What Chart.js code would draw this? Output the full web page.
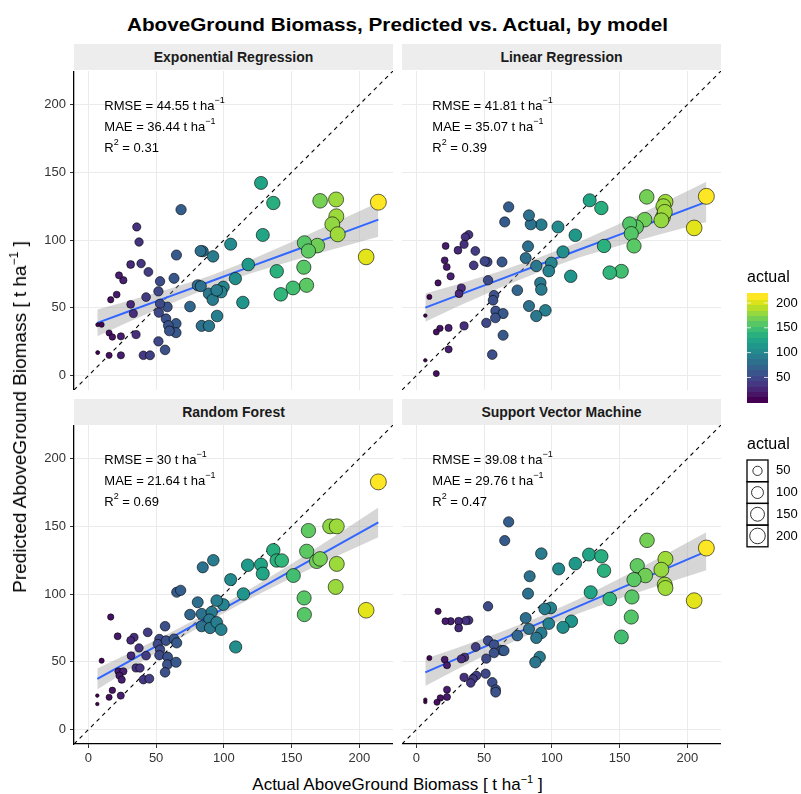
<!DOCTYPE html>
<html>
<head>
<meta charset="utf-8">
<script src="https://cdn.jsdelivr.net/npm/chart.js@4.4.0/dist/chart.umd.min.js"></script>
<style>
  body { margin: 0; background: #fff; font-family: "Liberation Sans", Arial, Helvetica, sans-serif; }
  #wrap { position: relative; width: 801px; height: 794px; overflow: hidden; }
  canvas { position: absolute; }
  .strip { position: absolute; width: 319px; height: 26px; line-height: 26px; background: #EDEDED;
           text-align: center; font-weight: bold; font-size: 14px; color: #1a1a1a; }
  .txt { position: absolute; white-space: nowrap; color: #000; }
  .sup { font-size: 11px; position: relative; top: -7px; }
</style>
</head>
<body>
<div id="wrap">
  <div class="txt" style="left:0;width:795px;top:14px;line-height:22px;text-align:center;font-weight:bold;font-size:18px;transform:scaleX(1.15);">AboveGround Biomass, Predicted vs. Actual, by model</div>

  <div class="strip" style="left:74px;top:44px;">Exponential Regression</div>
  <div class="strip" style="left:402px;top:44px;">Linear Regression</div>
  <div class="strip" style="left:74px;top:399px;">Random Forest</div>
  <div class="strip" style="left:402px;top:399px;">Support Vector Machine</div>

  <canvas id="cER" width="363" height="319" style="left:30px;top:71px;"></canvas>
  <canvas id="cLR" width="319" height="319" style="left:402px;top:71px;"></canvas>
  <canvas id="cRF" width="363" height="343" style="left:30px;top:425px;"></canvas>
  <canvas id="cSVM" width="319" height="343" style="left:402px;top:425px;"></canvas>
  <canvas id="legend" width="65" height="300" style="left:736px;top:260px;"></canvas>

  <div class="txt" style="left:0;width:795px;top:775px;line-height:20px;text-align:center;font-size:17px;">Actual AboveGround Biomass [ t ha<span class="sup">−1</span> ]</div>
  <div class="txt" style="left:21px;top:417px;width:0;height:0;">
    <div style="position:absolute;left:0;top:0;transform:translate(-50%,-50%) rotate(-90deg);font-size:19px;line-height:22px;white-space:nowrap;">Predicted AboveGround Biomass [ t ha<span class="sup" style="font-size:12px;top:-8px;">−1</span> ]</div>
  </div>
</div>

<script>
// ---- data ----
const axisMin = -10.6, axisMax = 224.8;
const tickVals = [0, 50, 100, 150, 200];
const legendBreaks = [50, 100, 150, 200];

const erX = [214,205,171,182.8,183,180,184,169,159.4,162.4,159,161,151,142,139,136.5,127.4,128.7,118,114,108.5,105,99.6,98,89,91.8,94.7,95,92,84.4,82.8,80.7,83,83.6,89,75,65,68.4,63.2,64.7,64.7,58.3,57.3,59,59.8,52.9,51.7,52.9,52,56.6,51.7,42.6,44.3,38.9,37.4,35.7,31.2,25.8,22.6,31.2,33.2,35.2,40.6,45.5,24,24,20.9,16.5,15.3,17.7,15.3,9.8,6.9,6.9];
const erY = [128,87.6,129,130,117.6,111.7,104.3,96,98,92,80,66.7,64.7,60,77,127.4,142.2,103.8,82,54,71.6,97,65.4,61.7,60.5,56,63,44,88,91.8,92,66.7,66,36.7,36.7,51,89,122.5,71.8,38.4,31.7,50.7,42,37,33,69.6,62.2,53,46.5,19,25.3,58,76.5,82.7,98.6,109.7,82,70.4,74,52.6,45.8,30.3,15,15,29,15,59.8,56,31.5,28.5,15,37.6,37.6,17];

const lrX = [214,205,170,183.8,182.3,182,183.3,180.8,168.5,162.3,157.4,158.6,160.6,151.3,142.7,138.5,127.9,136.5,117.3,108.2,113.9,104.5,99.6,97.7,92.2,84.4,83.1,88.5,82.4,80.7,91.5,92.2,95.2,88.5,83.1,74.5,68.1,65.2,63.2,52.4,50.4,52.9,57.3,56.6,58.5,64,58.3,51.6,64,56,38.6,36.1,35.2,30.7,21.6,43.5,42.3,20.9,22.4,25.3,16,33.2,31.5,35.2,23.8,17.4,14.7,23.8,9.6,6.6,6.6,14.7];
const lrY = [132.3,109,131.9,128.2,125,117,120.8,114.6,115.1,109.7,112,104.8,95.7,77,76,95.7,129.4,123.7,103.6,91.3,73.3,109.7,83.1,77.2,111.4,111.7,118.3,80.9,95.4,86.8,68.4,63.5,48.2,44,51.4,63,124.5,113.4,83.9,83.9,84.4,70.4,59.3,55.6,47.7,45.8,42.6,38.9,29.8,15.5,104,102.3,96.9,92.5,95.7,92,81.4,85.1,80.2,73.3,68.4,64.7,60.5,36.7,35.2,34.9,32.2,19.4,58.1,44.3,11.3,1.5];

const rfX = [214,205,178.4,183.3,183.3,182.5,162.4,161.1,168.5,171,159.2,159.4,151.3,136.5,139,142.7,127.4,128.7,117.6,114.4,108.7,105,99.6,94.7,92.2,84.4,80.7,75,83.6,91,89.3,83.6,89.8,94.7,98,65.2,68.1,56.6,52.4,51.2,57.3,63.2,65.2,52.9,52.4,58.5,58.3,64.7,56.6,43.8,33.7,31.2,37.4,31.5,42.6,35.2,38.1,40.6,45,21.6,16.5,22.1,25.8,22.9,24.6,17.7,15.3,23.9,9.8,6.6,6.6];
const rfY = [182.8,88.1,150,150,122.3,105.3,146.9,131.6,124.2,126,97.2,84.9,113.7,132.4,124.8,124.8,121.8,115.1,121.3,100.1,61,110.7,92.3,95.2,125,119.8,94,84.9,85.4,86.8,81.2,76.3,75,79.2,73.8,101.4,102.8,76.3,66.9,63.2,65.7,66.9,64,59,54.9,53.6,48,49.7,42.3,71.8,68.1,65.9,60.3,54.6,54.6,45.5,45.5,36.9,37.6,68.9,83.1,43,43,39.9,36.9,29,23.9,25.1,50.9,25.1,18.9];

const svmX = [214,205,170.2,183.8,180.8,183.3,183.8,163,169,160.6,159.1,158.6,151.3,142.7,128.6,127.4,136.5,138.5,117.3,105,114.4,108.2,97.7,99.1,94.7,92.2,83.6,82.4,80.7,92.2,88.5,83.1,91,87.8,74.5,68.1,65.2,52.9,52.9,57.3,63.2,64.7,57.3,51.6,51.1,56,58.5,58.5,43.8,35.6,33.2,44.3,41.8,40.1,35.2,38.6,36.4,31.2,25.3,21.4,31.2,16,20.9,22.6,9.6,22.6,17.7,15.2,22.6,6.6,6.6];
const svmY = [134,95.2,139.7,126,118,107,104.5,121,113.7,110.7,97.9,83.1,68.4,96.4,101.4,129.2,127.9,117.3,122.5,118.6,80,75.5,78.2,89.8,89.1,129.9,113.2,100.4,82.4,71.3,67.7,74.3,53.6,49.7,69.4,153.3,139.5,91,65.7,62.7,58.5,58.3,56.6,52.4,41.3,34.9,29.5,27.6,61,53.4,52.2,39.9,37.4,34.4,38.6,80.7,80.4,80,80,80,75,87.3,51.7,47.5,52.9,29.5,23.4,20.2,24.1,22.1,20.4];

// smoother (blue line) and its grey band, read at these actual values
const fitX = [6.6, 30, 60, 90, 120, 150, 180, 214];
const erFit = [38.9, 47.5, 58.5, 69.5, 80.6, 91.6, 102.6, 115.1];
const erLo  = [29.0, 39.7, 52.9, 65.2, 75.6, 84.6, 93.0, 102.5];
const erHi  = [48.8, 55.3, 64.1, 73.8, 85.6, 98.6, 112.2, 127.7];
const lrFit = [50.2, 59.0, 70.3, 81.6, 92.9, 104.1, 115.4, 128.2];
const lrLo  = [39.8, 50.8, 64.1, 76.3, 87.1, 96.1, 104.4, 113.4];
const lrHi  = [60.6, 67.2, 76.5, 86.9, 98.7, 112.1, 126.4, 143.0];
const rfFit = [37.4, 50.4, 67.1, 83.9, 100.6, 117.3, 134.0, 152.9];
const rfLo  = [29.6, 44.4, 62.9, 80.6, 97.0, 112.1, 126.4, 141.9];
const rfHi  = [45.2, 56.4, 71.3, 87.2, 104.2, 122.5, 141.6, 163.9];
const svmFit = [42.3, 52.4, 65.3, 78.2, 91.1, 104.1, 117.0, 131.6];
const svmLo  = [32.2, 44.5, 59.5, 73.5, 85.8, 96.7, 106.8, 117.6];
const svmHi  = [52.4, 60.3, 71.1, 82.9, 96.4, 111.5, 127.2, 145.6];

const rmseVals = ['44.55', '41.81', '30', '39.08'];
const maeVals  = ['36.44', '35.07', '21.64', '29.76'];
const r2Vals   = ['0.31', '0.39', '0.69', '0.47'];
const statX = 11.8;
const statY = [199, 183.5, 168];

// ---- helpers ----
const family = '"Liberation Sans", Arial, Helvetica, sans-serif';
Chart.defaults.font.family = family;

const allX = erX.concat(lrX, rfX, svmX);
const actMin = Math.min(...allX), actMax = Math.max(...allX);

// viridis palette, every 5%
const viridisStops = ['#440154','#471365','#482475','#463480','#414487','#3B528B','#355F8D','#2F6C8E','#2A788E','#25848E','#21918C',
                      '#1E9C89','#22A884','#2FB47C','#44BF70','#5EC962','#7AD151','#9BD93C','#BDDF26','#DFE318','#FDE725'];
function hexRgb(h) { return [1, 3, 5].map(i => parseInt(h.substr(i, 2), 16)); }
function viridis(t) {
  t = Math.max(0, Math.min(1, t));
  const s = t * (viridisStops.length - 1);
  const i = Math.min(Math.floor(s), viridisStops.length - 2);
  const f = s - i;
  const a = hexRgb(viridisStops[i]), b = hexRgb(viridisStops[i + 1]);
  const c = a.map((v, k) => Math.round(v + (b[k] - v) * f));
  return 'rgb(' + c.join(',') + ')';
}
const tOf = v => (v - actMin) / (actMax - actMin);
const radiusOf = v => 1.8 + 6.2 * Math.sqrt(Math.max(0, tOf(v)));

function pts(xs, ys) { return xs.map((x, i) => ({ x: x, y: ys[i] })); }

function statsPlugin(k) {
  const lines = [
    [{ t: 'RMSE = ' + rmseVals[k] + ' t ha' }, { t: '−1', sup: true }],
    [{ t: 'MAE = ' + maeVals[k] + ' t ha' }, { t: '−1', sup: true }],
    [{ t: 'R' }, { t: '2', sup: true }, { t: ' = ' + r2Vals[k] }]
  ];
  return {
    id: 'stats' + k,
    afterDatasetsDraw(chart) {
      const ctx = chart.ctx, xs = chart.scales.x, ys = chart.scales.y;
      ctx.save();
      ctx.fillStyle = '#000';
      ctx.textBaseline = 'middle';
      lines.forEach((ln, i) => {
        let px = xs.getPixelForValue(statX);
        const py = ys.getPixelForValue(statY[i]);
        ln.forEach(seg => {
          ctx.font = (seg.sup ? '9px ' : '13px ') + family;
          ctx.fillText(seg.t, px, seg.sup ? py - 5 : py);
          px += ctx.measureText(seg.t).width;
        });
      });
      ctx.restore();
    }
  };
}

function makePanel(id, k, showY, showX, xs, ys, fit, lo, hi) {
  const scatter = pts(xs, ys);
  new Chart(document.getElementById(id), {
    type: 'scatter',
    data: {
      datasets: [
        {
          data: scatter,
          pointRadius: c => radiusOf(c.raw.x),
          pointHoverRadius: c => radiusOf(c.raw.x),
          pointBackgroundColor: c => viridis(tOf(c.raw.x)),
          pointBorderColor: '#000',
          pointBorderWidth: 0.6
        },
        { data: pts(fitX, fit), showLine: true, borderColor: '#3366FF', borderWidth: 2, pointRadius: 0 },
        { data: pts(fitX, hi), showLine: true, borderWidth: 0, pointRadius: 0, fill: '+1', backgroundColor: 'rgba(153,153,153,0.4)' },
        { data: pts(fitX, lo), showLine: true, borderWidth: 0, pointRadius: 0 },
        { data: [{ x: axisMin, y: axisMin }, { x: axisMax, y: axisMax }], showLine: true, borderColor: '#000',
          borderWidth: 1.1, borderDash: [4, 4], pointRadius: 0 }
      ]
    },
    options: {
      responsive: false,
      animation: false,
      events: [],
      layout: { padding: 0, autoPadding: false },
      plugins: { legend: { display: false }, tooltip: { enabled: false } },
      scales: {
        x: {
          type: 'linear', min: axisMin, max: axisMax,
          afterBuildTicks: s => { s.ticks = tickVals.map(v => ({ value: v })); },
          afterFit: s => { s.height = showX ? 24 : 0; s.paddingLeft = s.paddingRight = s.paddingTop = s.paddingBottom = 0; },
          grid: { color: '#EBEBEB', lineWidth: 1, drawTicks: showX, tickLength: 4, tickColor: '#333', tickWidth: 1 },
          border: { display: showX, color: '#000', width: 1.3 },
          ticks: { display: showX, color: '#333', font: { size: 13 }, padding: 3, maxRotation: 0 }
        },
        y: {
          type: 'linear', min: axisMin, max: axisMax,
          afterBuildTicks: s => { s.ticks = tickVals.map(v => ({ value: v })); },
          afterFit: s => { s.width = showY ? 44 : 0; s.paddingLeft = s.paddingRight = s.paddingTop = s.paddingBottom = 0; },
          grid: { color: '#EBEBEB', lineWidth: 1, drawTicks: showY, tickLength: 4, tickColor: '#333', tickWidth: 1 },
          border: { display: showY, color: '#000', width: 1.3 },
          ticks: { display: showY, color: '#333', font: { size: 13 }, padding: 4 }
        }
      }
    },
    plugins: [statsPlugin(k)]
  });
}

makePanel('cER', 0, true, false, erX, erY, erFit, erLo, erHi);
makePanel('cLR', 1, false, false, lrX, lrY, lrFit, lrLo, lrHi);
makePanel('cRF', 2, true, true, rfX, rfY, rfFit, rfLo, rfHi);
makePanel('cSVM', 3, false, true, svmX, svmY, svmFit, svmLo, svmHi);

// ---- legends ----
(function drawLegend() {
  const ctx = document.getElementById('legend').getContext('2d');
  const ox = 736, oy = 260;
  ctx.translate(-ox, -oy);
  ctx.textBaseline = 'middle';
  ctx.fillStyle = '#000';
  ctx.font = '16px ' + family;
  ctx.fillText('actual', 747, 278);

  const bx = 747, bw = 21, bTop = 293.3, bh = 108.4, nbin = 20;
  for (let i = 0; i < nbin; i++) {
    ctx.fillStyle = viridis(i / (nbin - 1));
    const y0 = bTop + bh - (i + 1) * bh / nbin;
    ctx.fillRect(bx, Math.floor(y0), bw, Math.ceil(bh / nbin) + 1);
  }
  ctx.font = '13px ' + family;
  legendBreaks.forEach(v => {
    const f = (0.5 + (nbin - 1) * tOf(v)) / nbin;
    const y = bTop + bh - f * bh;
    ctx.strokeStyle = 'rgba(255,255,255,0.8)';
    ctx.lineWidth = 1;
    ctx.beginPath();
    ctx.moveTo(bx, y); ctx.lineTo(bx + 4, y);
    ctx.moveTo(bx + bw - 4, y); ctx.lineTo(bx + bw, y);
    ctx.stroke();
    ctx.fillStyle = '#000';
    ctx.fillText(String(v), 776, y);
  });

  ctx.font = '16px ' + family;
  ctx.fillStyle = '#000';
  ctx.fillText('actual', 747, 445);
  const kTop = 460, kh = 21.7;
  ctx.font = '13px ' + family;
  legendBreaks.forEach((v, i) => {
    const y0 = kTop + i * kh;
    ctx.strokeStyle = '#000';
    ctx.lineWidth = 1.3;
    ctx.strokeRect(bx, y0, bw, kh);
    ctx.beginPath();
    ctx.arc(bx + bw / 2, y0 + kh / 2, radiusOf(v), 0, Math.PI * 2);
    ctx.fillStyle = '#fff';
    ctx.fill();
    ctx.lineWidth = 0.8;
    ctx.stroke();
    ctx.fillStyle = '#000';
    ctx.fillText(String(v), 776, y0 + kh / 2);
  });
})();
</script>
</body>
</html>
